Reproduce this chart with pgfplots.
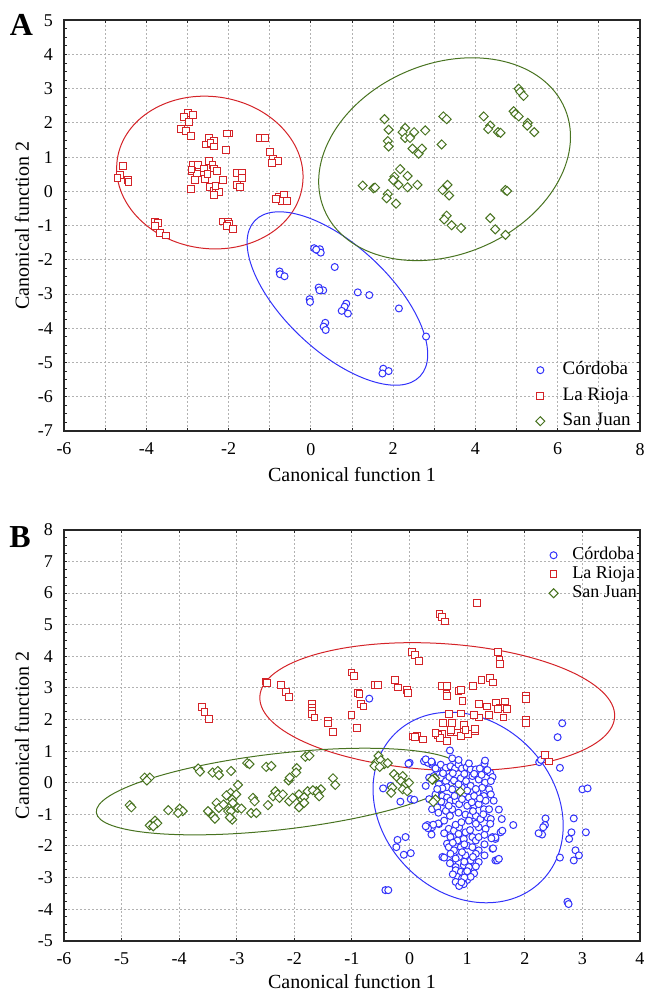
\documentclass[border=0pt]{standalone}
\usepackage{fontspec}
\setmainfont{Liberation Serif}
\usepackage{pgfplots}
\pgfplotsset{compat=1.18}

\definecolor{cblue}{RGB}{50,50,250}
\definecolor{cred}{RGB}{212,35,40}
\definecolor{cgreen}{RGB}{72,115,32}

\pgfplotsset{
  canbase/.style={
    scale only axis, width=288pt, height=205.4pt,
    axis line style={line width=0.8pt, black!85},
    tick align=inside,
    major tick length=1.5pt, minor tick length=1.5pt,
    every tick/.style={black!85, line width=0.5pt},
    minor y tick num=3,
    grid=major,
    major grid style={gray!60, line width=0.5pt, dash pattern=on 1pt off 1pt},
    ticklabel style={font=\rmfamily\fontsize{9}{10}\selectfont},
    yticklabel style={xshift=-2pt},
    xticklabel style={yshift=-2.5pt},
    label style={font=\rmfamily\fontsize{10}{12}\selectfont},
    xlabel={Canonical function 1}, ylabel={Canonical function 2},
    ylabel style={at={(axis description cs:-0.0729,0.5)}, anchor=center},
    legend cell align=left,
  },
  cordoba/.style={only marks, mark=*, mark size=1.75pt, color=cblue,
    mark options={draw=cblue, fill=white, line width=0.5pt}},
  rioja/.style={only marks, mark=square*, mark size=1.7pt, color=cred,
    mark options={draw=cred, fill=white, line width=0.5pt}},
  sanjuan/.style={only marks, mark=square*, mark size=1.6pt, color=cgreen,
    mark options={rotate=45, draw=cgreen, fill=white, line width=0.5pt}},
}

\begin{document}
\begin{tikzpicture}
\path[use as bounding box] (-32pt,-25.15pt) rectangle (290.5pt,470.35pt);

% ---------- panel A
\begin{axis}[canbase,
  at={(0pt,254.85pt)}, anchor=south west,
  xmin=-6, xmax=8, ymin=-7, ymax=5,
  xtick={-6,...,8}, xticklabels={-6,,-4,,-2,,0,,2,,4,,6,,8},
  ytick={-7,...,5}, yticklabels={-7,-6,-5,-4,-3,-2,-1,0,1,2,3,4,5},
  xlabel style={at={(axis description cs:0.5,-0.107)}, anchor=center},
  legend style={draw=none, fill=none, at={(axis description cs:0.808,0.086)},
    anchor=west, font=\rmfamily\fontsize{9.5}{11}\selectfont,
    column sep=7.5pt, row sep=0.45pt,
    nodes={text height=7pt, text depth=2.5pt, inner sep=1.4pt}},
]
\addplot[cordoba] table {
x y
0.08 -1.66
0.16 -1.72
0.22 -1.69
0.24 -1.79
0.13 -1.70
0.58 -2.21
-0.76 -2.34
-0.75 -2.42
-0.64 -2.48
0.19 -2.81
0.30 -2.89
0.21 -2.89
-0.03 -3.15
-0.02 -3.23
1.14 -2.95
1.42 -3.03
0.86 -3.28
0.82 -3.37
0.75 -3.49
0.90 -3.57
2.14 -3.42
0.35 -3.84
0.31 -3.95
0.36 -4.05
2.80 -4.24
1.76 -5.18
1.89 -5.25
1.74 -5.32
};
\addlegendentry{Córdoba}
\addplot[rioja] table {
x y
-2.99 2.30
-2.87 2.23
-3.09 2.17
-2.97 2.03
-3.15 1.83
-3.03 1.77
-2.91 1.62
-2.47 1.56
-2.35 1.48
-2.55 1.37
-2.44 1.42
-2.36 1.31
-2.06 1.21
-1.98 1.69
-2.04 1.69
-1.25 1.56
-1.12 1.56
-0.99 1.16
-0.93 0.96
-0.80 0.88
-0.95 0.82
-0.78 -0.17
-0.65 -0.09
-0.70 -0.27
-0.58 -0.27
-0.84 -0.22
-4.57 0.75
-4.63 0.48
-4.70 0.40
-4.45 0.33
-4.43 0.27
-3.78 -0.88
-3.72 -0.92
-3.78 -1.01
-3.66 -1.22
-3.53 -1.29
-2.14 -0.88
-2.02 -0.88
-1.98 -0.96
-2.04 -1.01
-1.89 -1.10
-2.87 0.76
-2.75 0.76
-2.88 0.60
-2.77 0.52
-2.82 0.33
-2.92 0.06
-2.59 0.67
-2.47 0.88
-2.39 0.76
-2.35 0.67
-2.28 0.60
-2.57 0.35
-2.45 0.12
-2.36 0.02
-2.30 -0.01
-2.23 -0.01
-2.36 -0.11
-2.13 0.33
-1.80 0.54
-1.67 0.54
-1.67 0.40
-1.80 0.18
-1.73 0.13
-2.51 0.50
-2.32 0.16
-2.90 0.64
};
\addlegendentry{La Rioja}
\addplot[sanjuan] table {
x y
5.05 3.00
5.09 2.91
5.17 2.79
4.93 2.34
4.97 2.26
5.05 2.19
5.27 2.00
5.26 1.92
5.43 1.73
4.20 2.19
4.36 1.92
4.31 1.82
4.55 1.73
4.61 1.71
3.22 2.19
3.30 2.11
3.18 1.37
1.79 2.11
1.89 1.80
2.29 1.85
2.23 1.73
2.29 1.56
2.51 1.73
2.78 1.78
2.41 1.56
1.87 1.47
1.89 1.31
2.47 1.25
2.62 1.10
2.70 1.25
2.17 0.65
2.03 0.43
2.00 0.33
2.35 0.45
2.13 0.19
2.35 0.12
2.59 0.19
1.26 0.17
1.52 0.09
1.56 0.11
1.87 -0.08
1.84 -0.20
2.07 -0.36
3.20 0.04
3.32 0.19
3.36 -0.12
4.73 0.04
4.77 0.01
3.30 -0.71
3.24 -0.82
3.42 -0.99
3.65 -1.07
4.36 -0.78
4.48 -1.11
4.73 -1.27
};
\addlegendentry{San Juan}
\draw[cred, line width=0.5pt, rotate around={-8:(axis cs:-2.455,0.55)}]
  (axis cs:-2.455,0.55) ellipse [x radius=46.75pt, y radius=38pt];
\draw[cblue, line width=0.5pt, rotate around={-43.2:(axis cs:0.645,-3.13)}]
  (axis cs:0.645,-3.13) ellipse [x radius=56.75pt, y radius=26.4pt];
\draw[cgreen, line width=0.5pt, rotate around={22.7:(axis cs:3.25,0.94)}]
  (axis cs:3.25,0.94) ellipse [x radius=65.25pt, y radius=47.7pt];
\end{axis}

% ---------- panel B
\begin{axis}[canbase,
  at={(0pt,0pt)}, anchor=south west,
  xmin=-6, xmax=4, ymin=-5, ymax=8,
  xtick={-6,...,4}, xticklabels={-6,-5,-4,-3,-2,-1,0,1,2,3,4},
  ytick={-5,...,8}, yticklabels={-5,-4,-3,-2,-1,0,1,2,3,4,5,6,7,8},
  xlabel style={at={(axis description cs:0.5,-0.1005)}, anchor=center},
  legend style={draw=none, fill=none, at={(axis description cs:0.831,0.892)},
    anchor=west, font=\rmfamily\fontsize{9}{10}\selectfont,
    column sep=6.5pt, row sep=-0.4pt,
    nodes={text height=6.5pt, text depth=2.2pt, inner sep=0.6pt}},
]
\addplot[cordoba] table {
x y
0.31 0.66
0.39 0.57
0.48 0.45
0.54 0.57
0.63 0.47
0.71 0.52
0.79 0.45
0.85 0.57
0.91 0.45
0.99 0.49
1.06 0.42
1.15 0.42
1.22 0.45
1.30 0.60
1.33 0.37
1.40 0.31
1.44 0.18
0.70 1.02
0.25 0.68
0.32 0.63
0.39 0.63
0.00 0.63
-0.02 0.60
0.28 0.74
0.38 0.67
0.74 0.77
0.85 0.72
1.03 0.61
1.31 0.70
1.35 0.40
0.34 0.16
0.42 0.21
0.54 0.16
0.63 0.05
0.69 0.18
0.77 0.07
0.89 0.14
0.98 0.05
1.09 0.21
1.20 0.10
1.31 0.00
1.41 0.05
0.51 -0.05
0.65 -0.14
0.74 -0.21
0.91 -0.16
1.06 -0.10
1.26 -0.16
1.38 -0.21
0.57 -0.18
1.18 -0.31
0.28 -0.10
0.45 -0.37
0.57 -0.42
0.65 -0.47
0.71 -0.57
0.80 -0.57
0.94 -0.37
1.03 -0.47
1.12 -0.42
1.29 -0.42
1.41 -0.37
1.46 -0.57
0.39 -0.84
0.48 -0.78
0.63 -0.89
0.74 -0.84
1.00 -0.73
1.12 -0.73
1.20 -0.68
1.29 -0.84
1.38 -0.84
0.60 -0.63
0.68 -0.73
0.86 -0.68
0.97 -1.01
1.06 -1.05
1.15 -1.05
1.23 -1.15
1.35 -1.10
1.41 -1.15
0.34 -0.52
0.91 -0.52
1.32 -0.57
0.31 -1.34
0.39 -1.41
0.51 -1.31
0.68 -1.46
0.77 -1.52
0.86 -1.41
0.97 -1.57
1.09 -1.72
1.20 -1.41
1.32 -1.46
1.44 -1.72
1.49 -1.78
1.58 -1.57
1.61 -1.52
0.71 -1.72
0.83 -1.83
0.94 -1.78
0.65 -1.93
1.15 -1.83
1.20 -1.72
0.80 -1.33
1.03 -1.20
0.50 -1.29
0.41 -1.33
0.38 -1.64
0.32 -1.44
0.28 -1.38
0.68 -2.04
0.77 -2.14
0.89 -2.04
1.00 -1.99
1.09 -2.04
1.20 -2.14
0.57 -2.35
0.74 -2.51
0.86 -2.35
0.97 -2.30
1.06 -2.46
1.15 -2.25
1.20 -2.51
0.94 -2.61
1.03 -2.67
0.80 -2.67
1.49 -2.46
1.52 -2.46
1.44 -2.09
0.71 -2.25
0.91 -2.20
0.80 -2.77
0.89 -2.82
0.97 -2.85
1.12 -2.87
0.83 -2.98
0.91 -3.03
1.00 -3.08
1.06 -2.98
0.80 -3.14
0.94 -3.21
0.86 -3.27
0.45 0.45
0.58 0.30
0.75 0.30
0.95 0.28
1.12 0.28
1.25 0.25
0.48 -0.20
0.85 -0.05
1.00 -0.25
1.15 -0.20
0.55 -0.60
0.78 -0.42
1.08 -0.62
1.22 -0.50
0.50 -0.95
0.70 -1.05
0.85 -0.95
1.10 -0.90
1.28 -1.00
0.60 -1.20
0.90 -1.25
1.15 -1.30
1.40 -1.30
0.60 -1.60
0.85 -1.62
1.05 -1.50
1.30 -1.65
0.75 -1.90
0.95 -1.95
1.30 -1.95
0.80 -2.40
1.10 -2.35
1.30 -2.30
0.70 -2.55
0.95 -2.50
1.15 -2.65
0.75 -2.90
1.00 -2.80
0.95 -3.00
0.90 -3.15
1.55 -0.85
1.60 -1.15
-0.42 -3.40
-0.37 -3.40
-0.46 -0.18
-0.33 -0.10
-0.16 -0.60
0.02 -0.52
0.08 -0.54
-0.21 -1.81
-0.07 -1.72
-0.10 -2.28
0.02 -2.23
-0.23 -2.04
0.60 -2.37
2.65 1.88
2.57 1.44
2.61 0.47
2.25 0.65
2.28 0.72
3.00 -0.21
3.09 -0.18
2.36 -1.13
2.35 -1.34
2.30 -1.64
2.32 -1.41
2.85 -1.13
2.81 -1.57
2.77 -1.78
3.06 -1.57
2.88 -2.14
2.94 -2.30
2.85 -2.46
2.61 -2.37
1.80 -1.34
2.74 -3.77
2.76 -3.84
2.24 -1.60
-0.70 2.66
1.49 -1.73
1.55 -2.41
1.45 -2.08
1.42 -1.76
};
\addlegendentry{Córdoba}
\addplot[rioja] table {
x y
1.17 5.69
0.52 5.33
0.56 5.24
0.61 5.10
0.04 4.13
0.10 4.05
0.17 3.86
1.53 4.13
1.56 3.89
1.57 3.76
-2.50 3.20
-2.47 3.15
-2.23 3.09
-2.15 2.88
-2.10 2.72
-1.69 2.50
-1.69 2.38
-1.69 2.27
-1.69 2.17
-1.65 2.06
-1.42 1.97
-1.41 1.87
-1.33 1.60
-1.01 3.49
-0.97 3.38
-0.90 2.85
-0.87 2.80
-0.84 2.48
-0.80 2.41
-1.01 2.13
-0.92 1.74
-0.60 3.09
-0.55 3.09
-0.25 3.25
-0.20 3.01
-0.05 2.94
-0.03 2.85
0.56 3.07
0.65 3.07
0.64 2.82
0.65 2.75
0.85 2.91
0.89 2.94
0.92 2.59
1.10 3.07
1.25 3.25
1.40 3.31
1.45 3.17
2.02 2.75
2.02 2.64
2.02 2.00
2.02 1.90
1.20 2.48
1.34 2.41
1.50 2.54
1.57 2.38
1.66 2.57
1.69 2.32
1.53 2.32
1.63 2.06
1.38 2.14
1.21 2.06
1.12 2.14
0.69 2.17
0.89 2.19
0.58 1.88
0.73 1.88
0.94 1.83
0.97 1.53
0.82 1.59
0.71 1.59
0.56 1.55
0.50 1.51
1.02 1.53
1.13 1.64
0.65 1.32
0.89 1.48
0.53 1.42
0.13 1.48
0.23 1.37
0.05 1.46
0.10 1.44
2.35 0.88
2.42 0.67
-3.61 2.39
-3.56 2.23
-3.48 2.01
0.45 1.58
0.72 1.67
0.97 1.67
1.13 1.69
};
\addlegendentry{La Rioja}
\addplot[sanjuan] table {
x y
-4.86 -0.71
-4.83 -0.78
-4.60 0.16
-4.51 0.16
-4.56 0.07
-4.51 -1.35
-4.42 -1.20
-4.38 -1.28
-4.45 -1.38
-4.19 -0.87
-3.99 -0.82
-3.94 -0.90
-4.02 -0.96
-3.67 0.45
-3.64 0.35
-3.42 0.32
-3.33 0.37
-3.31 0.24
-3.10 0.37
-2.82 0.62
-2.78 0.59
-2.49 0.50
-2.40 0.53
-2.10 0.07
-2.08 0.16
-1.96 0.46
-1.97 0.32
-1.81 0.82
-1.74 0.85
-1.33 0.14
-1.29 -0.07
-1.54 -0.21
-1.62 -0.27
-2.98 -0.07
-3.11 -0.32
-3.18 -0.40
-3.08 -0.53
-3.07 -0.64
-3.01 -0.37
-3.35 -0.64
-3.47 -0.96
-3.41 -1.06
-3.50 -0.90
-3.31 -0.80
-3.23 -0.69
-3.15 -0.90
-3.10 -0.90
-2.98 -0.80
-2.92 -0.82
-3.08 -1.17
-3.12 -1.10
-3.38 -1.14
-2.72 -0.48
-2.69 -0.59
-2.75 -0.96
-2.66 -0.96
-2.46 -0.71
-2.37 -0.43
-2.33 -0.27
-2.29 -0.37
-2.26 -0.48
-2.20 -0.37
-2.09 -0.59
-2.03 -0.48
-1.92 -0.37
-1.87 -0.53
-1.90 -0.74
-1.83 -0.46
-1.77 -0.27
-1.68 -0.24
-1.60 -0.32
-1.57 -0.43
-1.83 -0.64
-1.92 -0.78
-0.54 0.85
-0.58 0.64
-0.50 0.71
-0.44 0.59
-0.38 0.62
-0.61 0.53
-0.52 0.50
-0.27 0.27
-0.21 0.16
-0.12 0.21
-0.15 0.05
-0.07 -0.05
-0.01 0.00
-0.30 -0.16
-0.32 -0.32
-0.12 -0.21
-0.04 -0.27
0.44 0.14
0.40 0.09
0.45 -0.53
0.41 -0.61
0.88 -0.28
0.39 0.10
};
\addlegendentry{San Juan}
\draw[cred, line width=0.5pt, rotate around={-3.3:(axis cs:0.48,2.405)}]
  (axis cs:0.48,2.405) ellipse [x radius=88.85pt, y radius=31.65pt];
\draw[cblue, line width=0.5pt, rotate around={-45.3:(axis cs:1.016,-0.785)}]
  (axis cs:1.016,-0.785) ellipse [x radius=51.95pt, y radius=42.8pt];
\draw[cgreen, line width=0.5pt, rotate around={6.55:(axis cs:-2.255,-0.28)}]
  (axis cs:-2.255,-0.28) ellipse [x radius=92.3pt, y radius=19.05pt];
\end{axis}

\node[font=\rmfamily\bfseries\fontsize{16}{16}\selectfont] at (-21.25pt,458.1pt) {A};
\node[font=\rmfamily\bfseries\fontsize{16}{16}\selectfont] at (-22pt,201.85pt) {B};
\end{tikzpicture}
\end{document}
